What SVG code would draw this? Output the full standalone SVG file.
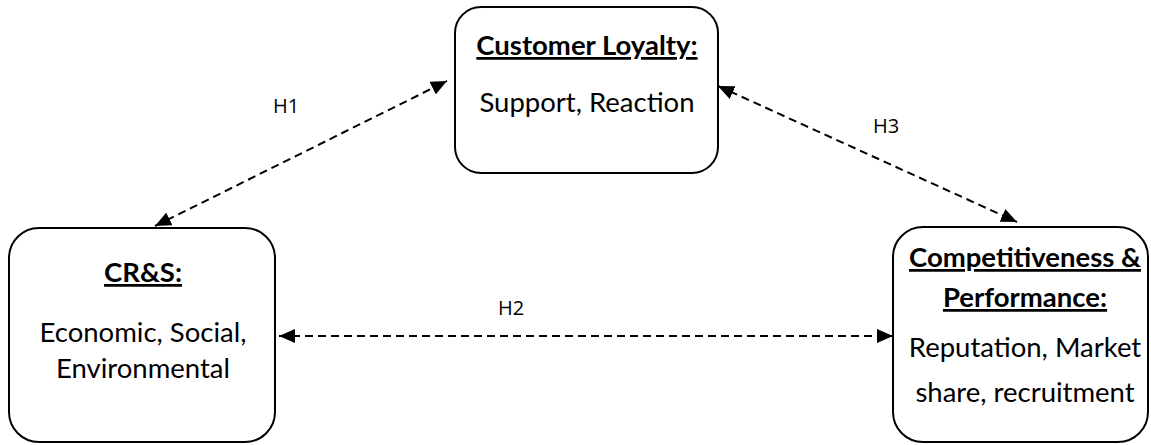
<svg xmlns="http://www.w3.org/2000/svg" width="1151" height="445" viewBox="0 0 1151 445">
  <style>
    .box { fill: #ffffff; stroke: #000000; stroke-width: 2; }
    .title { font-family: Lato, "Liberation Sans", sans-serif; font-weight: bold; font-size: 27.5px; text-anchor: middle; text-decoration: underline; fill: #000; }
    .body { font-family: Lato, "Liberation Sans", sans-serif; font-size: 27.5px; text-anchor: middle; fill: #000; }
    .hlabel { font-family: "Open Sans", "DejaVu Sans", sans-serif; font-size: 20px; text-anchor: middle; fill: #000; }
    .link { fill: none; stroke: #000; stroke-width: 2; stroke-dasharray: 8 5; }
  </style>
  <defs>
    <marker id="arrow" viewBox="0 0 10 10" refX="10" refY="5" markerWidth="8" markerHeight="7" markerUnits="strokeWidth" orient="auto-start-reverse" preserveAspectRatio="none">
      <path d="M0,0 L10,5 L0,10 z" fill="#000"/>
    </marker>
  </defs>

  <rect width="1151" height="445" fill="#ffffff"/>

  <!-- connectors -->
  <g id="connectors">
    <line class="link" x1="155" y1="226" x2="447" y2="81" marker-start="url(#arrow)" marker-end="url(#arrow)"/>
    <line class="link" x1="718" y1="86" x2="1017" y2="222" marker-start="url(#arrow)" marker-end="url(#arrow)"/>
    <line class="link" x1="279" y1="336" x2="893" y2="336" marker-start="url(#arrow)" marker-end="url(#arrow)"/>
    <text class="hlabel" x="286" y="113">H1</text>
    <text class="hlabel" x="511" y="315">H2</text>
    <text class="hlabel" x="886" y="133">H3</text>
  </g>

  <!-- Customer Loyalty -->
  <g id="customer-loyalty">
    <rect class="box" x="455" y="7" width="263" height="166" rx="26" ry="26"/>
    <text class="title" x="587" y="55">Customer Loyalty:</text>
    <text class="body" x="587" y="112">Support, Reaction</text>
  </g>

  <!-- CR&S -->
  <g id="crs">
    <rect class="box" x="9" y="228" width="266" height="214" rx="30" ry="30"/>
    <text class="title" x="143" y="282">CR&amp;S:</text>
    <text class="body" x="143" y="342">Economic, Social,</text>
    <text class="body" x="143" y="378">Environmental</text>
  </g>

  <!-- Competitiveness & Performance -->
  <g id="competitiveness">
    <rect class="box" x="893" y="227" width="255" height="215" rx="30" ry="30"/>
    <text class="title" x="1025" y="267">Competitiveness &amp;</text>
    <text class="title" x="1025" y="307">Performance:</text>
    <text class="body" x="1025" y="357">Reputation, Market</text>
    <text class="body" x="1025" y="402">share, recruitment</text>
  </g>
</svg>
